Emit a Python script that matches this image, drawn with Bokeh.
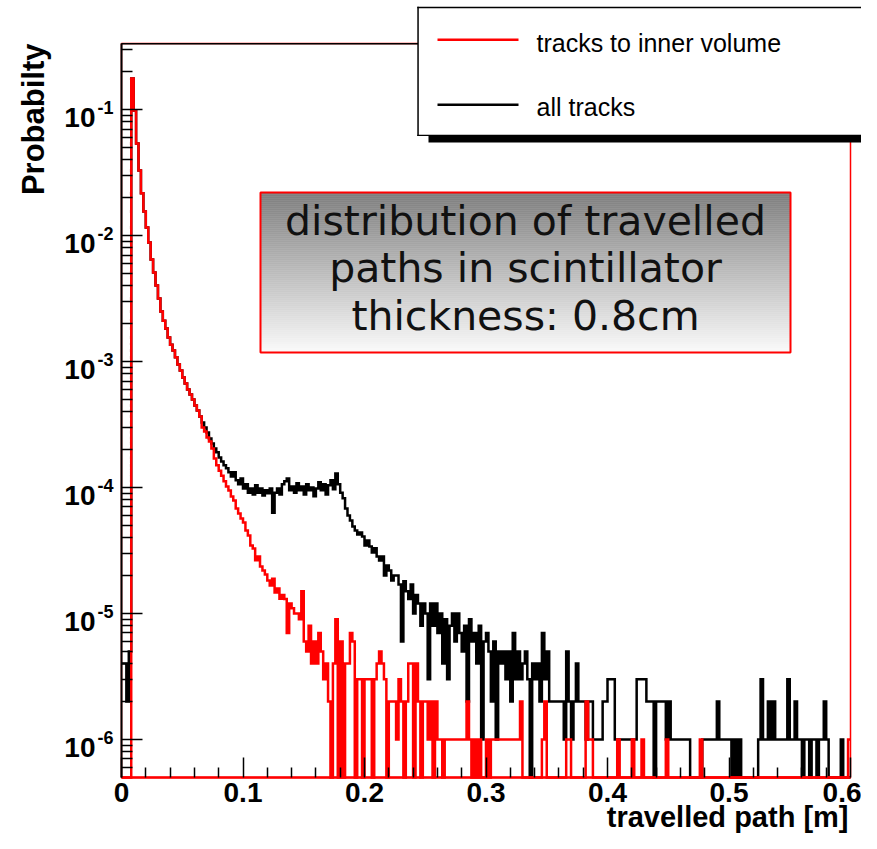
import numpy as np
from bokeh.plotting import figure
from bokeh.models import (Range1d, FixedTicker, CustomJSTickFormatter, Label, BoxAnnotation)
from bokeh.embed import file_html
from bokeh.resources import INLINE

# ---------------- data ----------------
BIN_WIDTH = 0.002            # m
X_MIN, X_MAX = 0.0, 0.6
PROB_PER_ENTRY = 1e-6        # one entry = 1e-6 probability

# bins 0..3 (below scintillator thickness)
all_first_counts = [4, 4, 2, 5]
inner_first_counts = [0, 0, 0, 0]

# bins 4..32 : both histograms coincide
shared_head = [0.176, 0.098, 0.0537, 0.0328, 0.0216, 0.0155, 0.01156, 0.00879,
               0.00645, 0.00508, 0.00401, 0.00316, 0.00249, 0.00211, 0.00183,
               0.00155, 0.00136, 0.00122, 0.00108, 0.000947, 0.000849,
               0.000747, 0.000668, 0.0006, 0.000547, 0.000499, 0.000448,
               0.000408, 0.000366]

# all tracks, bins 33..112 (probability)
all_mid = [3.28e-4, 2.99e-4, 2.73e-4, 2.45e-4, 2.23e-4, 2.04e-4, 1.9e-4, 1.73e-4, 1.61e-4, 1.5e-4,
           1.42e-4, 1.32e-4, 1.22e-4, 1.32e-4, 1.14e-4, 1.06e-4, 1.18e-4, 9.8e-5, 1.06e-4, 9.1e-5,
           9.8e-5, 8.8e-5, 1.04e-4, 9.1e-5, 9.8e-5, 8.65e-5, 9.5e-5, 9.0e-5, 9.8e-5, 6.3e-5,
           9.1e-5, 9.8e-5, 8.8e-5, 1.06e-4, 1.12e-4, 1.18e-4, 9.5e-5, 1.02e-4, 9.1e-5, 1.08e-4,
           9.5e-5, 1.02e-4, 8.8e-5, 1.06e-4, 9.5e-5, 1.0e-4, 8.5e-5, 9.8e-5, 1.1e-4, 9.5e-5,
           1.06e-4, 8.8e-5, 1.04e-4, 1.14e-4, 9.7e-5, 1.29e-4, 1.06e-4, 9.1e-5, 8.2e-5, 6.8e-5,
           6.0e-5, 5.47e-5, 4.9e-5, 4.56e-5, 4.24e-5, 4.4e-5, 4.08e-5, 3.47e-5, 3.8e-5, 3.4e-5,
           3.05e-5, 3.3e-5, 2.83e-5, 2.63e-5, 2.83e-5, 2.0e-5, 2.4e-5, 2.19e-5, 1.83e-5, 2.0e-5]

# all tracks, bins 113..299 (entries)
all_tail_counts = [20, 17, 6, 18, 15, 13, 17, 10, 14, 12, 8, 12, 10, 3, 12, 8, 12, 7, 10, 4, 9, 3, 8, 10, 6,
                   10, 7, 5, 8, 2, 9, 6, 7, 4, 8, 1, 6, 7, 5, 2, 6, 1, 5, 4, 5, 3, 5, 2, 7, 3,
                   5, 3, 4, 5, 3, 0, 4, 3, 4, 2, 7, 3, 5, 2, 2, 2, 2, 2, 2, 1, 5, 2, 1, 2, 4,
                   2, 2, 2, 1, 2, 2, 1, 1, 1, 1, 2, 2, 3, 3, 3, 1, 1, 1, 1, 1, 1, 1, 1, 1, 3,
                   3, 3, 3, 2, 2, 2, 0, 2, 2, 2, 2, 1, 2, 1, 1, 1, 1, 1, 1, 1, 1, 0, 0, 0, 0,
                   0, 1, 1, 1, 1, 1, 1, 2, 1, 1, 1, 1, 1, 0, 1, 0, 1, 0, 0, 0, 0, 0, 0, 0, 1,
                   3, 1, 1, 2, 1, 2, 1, 1, 1, 1, 1, 3, 1, 1, 2, 1, 1, 0, 1, 1, 0, 1, 1, 0, 1,
                   1, 2, 1, 0, 0, 0, 0, 0, 1, 0, 0, 0]

# tracks to inner volume, bins 33..66 (probability)
inner_mid = [2.99e-4, 2.78e-4, 2.49e-4, 2.32e-4, 2.04e-4, 1.7e-4, 1.5e-4, 1.36e-4, 1.24e-4, 1.12e-4,
             1.02e-4, 9.47e-5, 8.49e-5, 7.88e-5, 6.81e-5, 6.22e-5, 5.67e-5, 5.27e-5, 4.56e-5, 4.16e-5,
             3.47e-5, 3.28e-5, 2.64e-5, 2.83e-5, 2.36e-5, 2.19e-5, 2.04e-5, 1.83e-5, 1.67e-5, 1.89e-5,
             1.47e-5, 1.58e-5, 1.31e-5, 1.4e-5]

# tracks to inner volume, bins 67..299 (entries)
inner_tail_counts = [13, 7, 12, 11, 10, 10, 9, 15, 6, 5, 8, 4, 6, 4, 7, 5, 3, 4, 2, 0,
                     4, 9, 0, 6, 0, 4, 4, 7, 6, 0, 3, 3, 0, 3, 3, 3, 0, 3, 4, 5, 4, 3, 0, 2, 2, 2,
                     1, 3, 2, 0, 2, 4, 4, 0, 4, 2, 0, 2, 2, 1, 2, 0, 2, 1,
                     1, 0, 1, 1, 1, 1, 1, 1, 1, 1, 1, 2, 1, 0, 1, 0, 1, 0, 0, 1, 0, 1,
                     1, 1, 1, 1, 1, 1, 1, 1, 1, 1, 1, 2, 0, 0, 0, 0, 0, 0, 0, 0, 1, 2,
                     0, 0, 0, 0, 0, 0, 0, 0, 1, 1, 0, 0, 0, 0, 0, 0, 2, 1, 1, 0, 0, 0, 0, 0, 0,
                     0, 0, 0, 0, 1, 0, 0, 0, 0, 0, 1, 0, 0, 0, 1, 0, 0, 0, 0, 0, 0, 0, 0, 0, 1,
                     0, 0, 0, 0, 0, 0, 0, 0, 0, 0, 0, 0, 0, 1, 0, 0, 0, 0, 0, 0, 0, 0, 0, 0, 0,
                     0, 0, 0, 0, 0, 0, 0, 0, 0, 0, 0, 0, 0, 0, 0, 0, 0, 0, 0, 0, 0, 0, 0, 0, 0,
                     0, 0, 0, 0, 0, 0, 0, 0, 0, 0, 0, 0, 0, 0, 0, 0, 0, 0, 0, 0, 0, 0, 0, 0, 1]

legend_labels = ["tracks to inner volume", "all tracks"]
box_lines = ["distribution of travelled", "paths in scintillator", "thickness: 0.8cm"]
x_title = "travelled path [m]"
y_title = "Probabilty"
x_major = [0.0, 0.1, 0.2, 0.3, 0.4, 0.5, 0.6]
x_labels = ["0", "0.1", "0.2", "0.3", "0.4", "0.5", "0.6"]
y_decades = [-1, -2, -3, -4, -5, -6]

all_tracks = np.concatenate([np.array(all_first_counts) * PROB_PER_ENTRY, shared_head,
                             all_mid, np.array(all_tail_counts) * PROB_PER_ENTRY])
inner_vol = np.concatenate([np.array(inner_first_counts) * PROB_PER_ENTRY, shared_head,
                            inner_mid, np.array(inner_tail_counts) * PROB_PER_ENTRY])
nbins = int(round((X_MAX - X_MIN) / BIN_WIDTH))
assert len(all_tracks) == nbins and len(inner_vol) == nbins
edges = X_MIN + BIN_WIDTH * np.arange(nbins + 1)

# ---------------- layout (pixel positions on the canvas) ----------------
W, H = 861, 833
FL, FR, FT, FB = 121, 850, 43, 777          # the histogram frame
LOG_LO, LOG_HI = -6.302, -0.476            # log10 of y at frame bottom / top
PX_PER_DEC = (FB - FT) / (LOG_HI - LOG_LO)
Y_MIN, Y_MAX = 10 ** LOG_LO, 10 ** LOG_HI


def dx(fx):
    return X_MIN + (fx - FL) / (FR - FL) * (X_MAX - X_MIN)


def dy(fy):
    return 10 ** (LOG_HI - (fy - FT) / PX_PER_DEC)


def step_y(v):
    v = np.where(v > 0, v, Y_MIN)        # empty bins sit on the frame bottom
    return np.append(v, v[-1])


def filled_box(x0, x1, y0, y1, color, level="annotation"):
    return BoxAnnotation(left=dx(x0), right=dx(x1), top=dy(y0), bottom=dy(y1),
                         fill_color=color, fill_alpha=1, line_color=None, level=level)


# the plotting area covers the whole canvas; axes are pinned at the frame
p = figure(width=W, height=H, y_axis_type="log",
           x_range=Range1d(dx(0), dx(W)), y_range=Range1d(dy(H), dy(0)),
           output_backend="svg", toolbar_location=None,
           min_border_left=0, min_border_right=0, min_border_top=0, min_border_bottom=0)
p.background_fill_color = "white"
p.border_fill_color = "white"
p.outline_line_color = None
p.xgrid.visible = False
p.ygrid.visible = False

# frame box (below axes)
p.add_layout(BoxAnnotation(left=X_MIN, right=X_MAX, top=Y_MAX, bottom=Y_MIN,
                           fill_alpha=0, line_color="red", line_alpha=1, line_width=1.5,
                           line_dash="solid", level="underlay"))
p.add_layout(filled_box(FL, FR, FT - 0.6, FT + 0.9, "black", level="underlay"))

# x axis
xa = p.xaxis[0]
xa.fixed_location = Y_MIN
xa.bounds = (X_MIN, X_MAX)
xa.ticker = FixedTicker(ticks=x_major,
                        minor_ticks=[round(0.02 * k, 2) for k in range(1, 30) if k % 5])
xa.major_label_overrides = {t: s for t, s in zip(x_major, x_labels)}
xa.major_tick_in = 20
xa.major_tick_out = 0
xa.minor_tick_in = 10
xa.minor_tick_out = 0
xa.major_tick_line_width = 1.5
xa.minor_tick_line_width = 1.5
xa.axis_line_color = "red"
xa.axis_line_width = 2.5
xa.major_label_text_font = "Liberation Sans"
xa.major_label_text_font_style = "bold"
xa.major_label_text_font_size = "28px"
xa.major_label_text_color = "black"
xa.major_label_standoff = 5

# y axis
ya = p.yaxis[0]
ya.fixed_location = X_MIN
ya.bounds = (Y_MIN, Y_MAX)
minor = [k * 10.0 ** e for e in range(-7, 0) for k in range(2, 10)
         if Y_MIN * 1.02 < k * 10.0 ** e < Y_MAX]
ya.ticker = FixedTicker(ticks=[10.0 ** e for e in y_decades], minor_ticks=minor)
ya.formatter = CustomJSTickFormatter(code="return '';")
ya.major_label_standoff = 0
ya.major_tick_in = 21
ya.major_tick_out = 0
ya.minor_tick_in = 11
ya.minor_tick_out = 0
ya.major_tick_line_width = 1.5
ya.minor_tick_line_width = 1.5
ya.axis_line_color = "black"
ya.axis_line_width = 2

# histograms
p.step(x=edges, y=step_y(all_tracks), mode="after", line_color="black", line_width=2.5,
       line_join="miter")
p.step(x=edges, y=step_y(inner_vol), mode="after", line_color="red", line_width=2.5,
       line_join="miter")

# y tick labels 10^-n
for e in y_decades:
    p.add_layout(Label(x=X_MIN, y=10.0 ** e, x_offset=-(FL - 95), y_offset=-8, text="10",
                       text_align="right", text_baseline="middle",
                       text_font="Liberation Sans", text_font_style="bold",
                       text_font_size="28px", text_color="black"))
    p.add_layout(Label(x=X_MIN, y=10.0 ** e, x_offset=-(FL - 97), y_offset=2, text=str(e),
                       text_align="left", text_baseline="middle",
                       text_font="Liberation Sans", text_font_style="bold",
                       text_font_size="18px", text_color="black"))

# axis titles
p.add_layout(Label(x=dx(848), y=dy(816), text=x_title, text_align="right",
                   text_baseline="alphabetic", text_font="Liberation Sans",
                   text_font_style="bold", text_font_size="29px", text_color="black"))
p.add_layout(Label(x=dx(33), y=dy(FT), text=y_title, angle=np.pi / 2, text_align="right",
                   text_baseline="alphabetic", text_font="Liberation Sans",
                   text_font_style="bold", text_font_size="31px", text_color="black"))

# gradient text box
BX0, BX1, BY0, BY1 = 260, 790, 192, 352
nb = 80
ys = np.linspace(BY0, BY1, nb + 1)
cols = []
for i in range(nb):
    g = int(round(125 + (250 - 125) * (i + 0.5) / nb))
    cols.append("#%02x%02x%02x" % (g, g, g))
p.quad(left=dx(BX0), right=dx(BX1), top=[dy(ys[i] - 0.3) for i in range(nb)],
       bottom=[dy(ys[i + 1] + 0.3) for i in range(nb)], fill_color=cols, line_color=None)
p.add_layout(BoxAnnotation(left=dx(BX0), right=dx(BX1), top=dy(BY0), bottom=dy(BY1),
                           fill_alpha=0, line_color="red", line_alpha=1, line_width=2,
                           line_dash="solid"))
for txt, base in zip(box_lines, [220, 267, 315]):
    p.add_layout(Label(x=dx(525), y=dy(base), text=txt, text_align="center",
                       text_baseline="alphabetic", text_font="DejaVu Sans",
                       text_font_size="41px", text_color="#111111"))

# legend with shadow (open on the right, where the canvas ends)
p.add_layout(filled_box(428, W + 40, 128, 142, "black"))
p.add_layout(filled_box(417.5, W + 40, 7, 135, "white"))
p.add_layout(filled_box(416.8, W + 40, 6.3, 7.8, "black"))      # top border
p.add_layout(filled_box(416.8, 418.3, 6.3, 135.5, "black"))     # left border
p.add_layout(filled_box(416.8, W + 40, 134.2, 135.5, "black"))  # bottom border
for col, cy, lab, base in [("red", 39.2, legend_labels[0], 42.7),
                           ("black", 104.3, legend_labels[1], 106)]:
    p.add_layout(filled_box(437, 518, cy - 1.2, cy + 1.2, col))
    p.add_layout(Label(x=dx(536), y=dy(base), text=lab, text_align="left",
                       text_baseline="alphabetic", text_font="Liberation Sans",
                       text_font_size="25px", text_color="black"))

open("out.html", "w").write(file_html(p, INLINE))
